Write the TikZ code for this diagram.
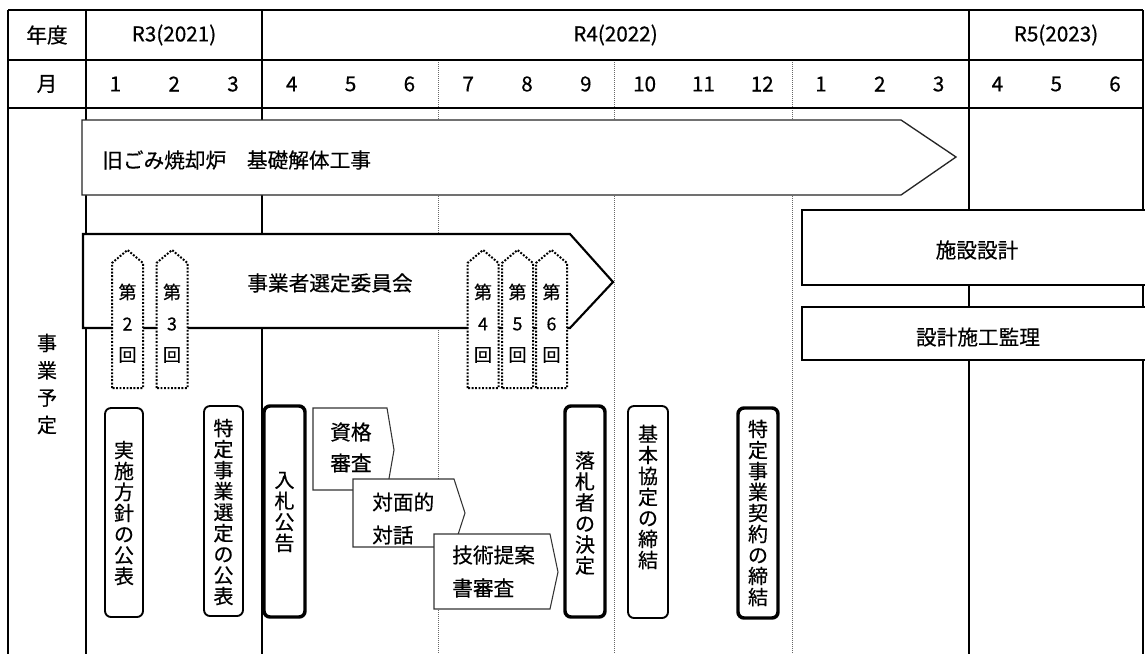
\documentclass[tikz,border=0pt]{standalone}
\usepackage{fontspec}
\setmainfont{Noto Sans CJK JP}[FakeBold=0.45]
\begin{document}
\begin{tikzpicture}[x=0.75pt,y=-0.75pt,
  grid/.style={line width=1.4pt},
  dgrid/.style={line width=0.75pt, black!60, dash pattern=on 0.75pt off 0.75pt},
  lbl/.style={inner sep=0pt, font=\fontsize{15.5}{18}\selectfont},
  vlbl/.style={inner sep=0pt, align=center, font=\fontsize{15}{15.75}\selectfont},
  mlbl/.style={inner sep=0pt, font=\fontsize{13.5}{15}\selectfont},
  bigarrow/.style={fill=white, draw=black!85, line width=1pt, line join=miter},
  selarrow/.style={fill=white, draw=black, line width=1.6pt, line join=miter},
  marker/.style={fill=white, draw=black, line width=1.5pt, dash pattern=on 1.4pt off 1.2pt},
  thinbox/.style={fill=white, draw=black, line width=1.4pt, rounded corners=4.5pt},
  thickbox/.style={fill=white, draw=black, line width=2.6pt, rounded corners=4.5pt},
  stepbox/.style={fill=white, draw=black!80, line width=0.8pt, line join=miter},
  planbox/.style={fill=white, draw=black, line width=1.9pt}]
\useasboundingbox (0,0) rectangle (1145,653);
\clip (0,0) rectangle (1145,653);
\fill[white] (0,0) rectangle (1145,653);

% grid
\draw[dgrid] (438,60) -- (438,660);
\draw[dgrid] (614,60) -- (614,660);
\draw[dgrid] (792,60) -- (792,660);
\foreach \yy in {10,60,108} \draw[grid] (8,\yy) -- (1143,\yy);
\foreach \xx in {8,86,262,969,1143} \draw[grid] (\xx,10) -- (\xx,660);

% headers
\node[lbl] (nendo) at (47,35) {年度};
\node[lbl] (tsuki) at (47,84) {月};
\node[lbl] (r3) at (174,35) {R3(2021)};
\node[lbl] (r4) at (615.5,35) {R4(2022)};
\node[lbl] (r5) at (1056,35) {R5(2023)};
\foreach \m [count=\i] in {1,2,3,4,5,6,7,8,9,10,11,12,1,2,3,4,5,6}
  \node[lbl] (m\i) at ({86+(\i-0.5)*58.8},84) {\m};
\node[vlbl, font=\fontsize{15}{20.5}\selectfont] (jigyo) at (47,384) {事\\業\\予\\定};

% demolition arrow
\draw[bigarrow] (82,120) -- (901,120) -- (956,157) -- (901,195) -- (82,195) -- cycle;
\node[lbl, anchor=west] (demo) at (102,160) {旧ごみ焼却炉　基礎解体工事};

% selection committee arrow
\draw[selarrow] (83,234) -- (570,234) -- (613,282) -- (570,328) -- (83,328) -- cycle;
\node[lbl] (iinkai) at (330,283) {事業者選定委員会};

% meeting markers
\foreach \cx/\n in {127.5/2,172/3,483/4,517.5/5,551.5/6}{
  \draw[marker] (\cx-15.5,388) -- (\cx-15.5,263) -- (\cx,250) -- (\cx+15.5,263) -- (\cx+15.5,388) -- cycle;
  \node[mlbl] (dai\n) at (\cx,292) {第};
  \node[mlbl] (num\n) at (\cx,324) {\n};
  \node[mlbl] (kai\n) at (\cx,355) {回};
}

% milestone boxes
\draw[thinbox] (105,408) rectangle (143,617);
\node[vlbl] (b1) at (124,513) {実\\施\\方\\針\\の\\公\\表};
\draw[thinbox] (204,406) rectangle (243,616);
\node[vlbl] (b2) at (223.5,512) {特\\定\\事\\業\\選\\定\\の\\公\\表};
\draw[thickbox] (264,406) rectangle (305,617);
\node[vlbl] (b3) at (284.5,512) {入\\札\\公\\告};
\draw[thickbox] (565,406) rectangle (605,617);
\node[vlbl] (b4) at (585,513) {落\\札\\者\\の\\決\\定};
\draw[thinbox] (628,406) rectangle (668,618);
\node[vlbl] (b5) at (648,497) {基\\本\\協\\定\\の\\締\\結};
\draw[thickbox] (738,408) rectangle (778,618);
\node[vlbl] (b6) at (758,513) {特\\定\\事\\業\\契\\約\\の\\締\\結};

% procurement steps
\draw[stepbox] (313,408) -- (387,408) -- (394,450) -- (387,490) -- (313,490) -- cycle;
\node[lbl, anchor=west] (s1a) at (330,432) {資格};
\node[lbl, anchor=west] (s1b) at (330,463) {審査};
\draw[stepbox] (353,479) -- (454,479) -- (465,513) -- (454,547) -- (353,547) -- cycle;
\node[lbl, anchor=west] (s2a) at (372,502) {対面的};
\node[lbl, anchor=west] (s2b) at (372,535) {対話};
\draw[stepbox] (434,534) -- (550,534) -- (558,572) -- (550,609) -- (434,609) -- cycle;
\node[lbl, anchor=west] (s3a) at (452,555) {技術提案};
\node[lbl, anchor=west] (s3b) at (452,588) {書審査};

% design boxes
\draw[planbox] (802,210) rectangle (1152,285);
\node[lbl] (sekkei) at (977,250) {施設設計};
\draw[planbox] (802,307) rectangle (1152,360);
\node[lbl] (kanri) at (978,337) {設計施工監理};
\end{tikzpicture}
\end{document}
